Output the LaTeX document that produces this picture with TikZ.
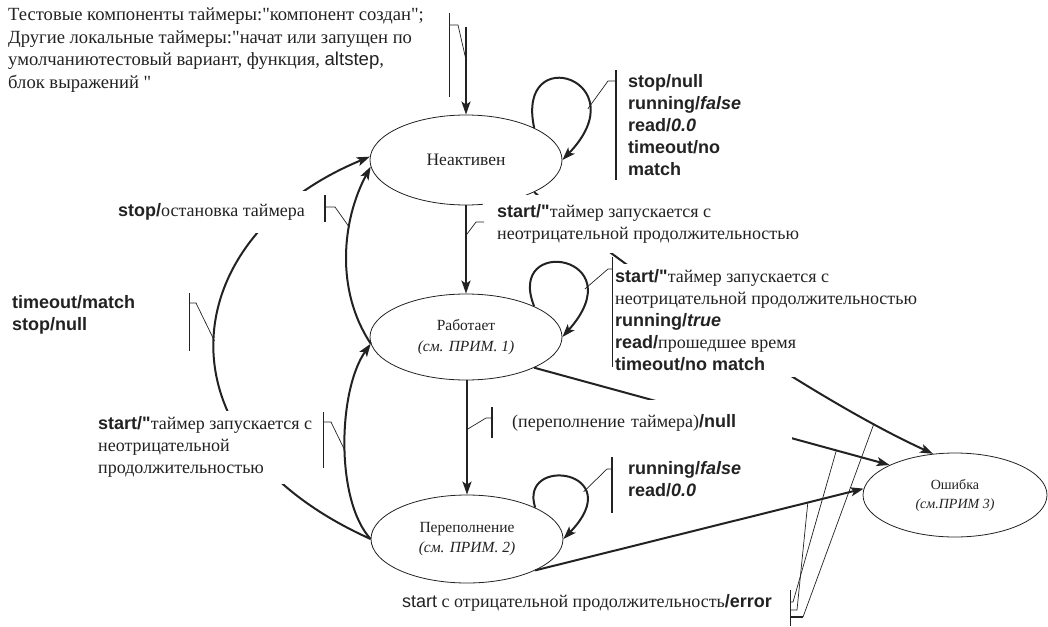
\documentclass[tikz,border=0pt]{standalone}
\usepackage{fontspec}
\setmainfont{Liberation Serif}[Ligatures=TeXOff]
\setsansfont{Liberation Sans}[Ligatures=TeXOff]
\usepackage{tikz}
\usetikzlibrary{shapes.geometric,arrows.meta}
\definecolor{ink}{HTML}{222222}
\newcommand{\kw}[1]{\textsf{\bfseries #1}}
\newcommand{\kwi}[1]{\textsf{\bfseries\itshape #1}}
\tikzset{
  stnode/.style={ellipse, draw=ink, line width=0.8pt, fill=white, inner sep=0pt, align=center, text=ink},
  tr/.style={draw=ink, line width=2pt, -{Stealth[length=13pt,width=9pt,inset=3pt]}},
  call/.style={draw=ink, line width=0.7pt},
  callb/.style={draw=ink, line width=2pt},
  lab/.style={text=ink, font=\fontsize{18}{22}\selectfont, align=left, inner sep=0pt},
  labbox/.style={lab, fill=white},
}

\begin{document}
\begin{tikzpicture}[x=1pt,y=-1pt]
  \useasboundingbox (0,0) rectangle (1048,626);

  % states
  \node[stnode, minimum width=192pt, minimum height=90pt, font=\fontsize{17.5}{21}\selectfont] (inact) at (466,160) {Неактивен};
  \node[stnode, minimum width=192pt, minimum height=86pt, font=\fontsize{15.5}{21}\selectfont] (run) at (466,337) {Работает\\\textit{(см. ПРИМ. 1)}};
  \node[stnode, minimum width=192pt, minimum height=88pt, font=\fontsize{15.5}{20}\selectfont] (over) at (467,539) {Переполнение\\\textit{(см. ПРИМ. 2)}};
  \node[stnode, minimum width=184pt, minimum height=84pt, font=\fontsize{14}{19}\selectfont] (err) at (955,495) {Ошибка\\\textit{(см.ПРИМ 3)}};

  % transitions that run under the label boxes
  \draw[tr] (over.west) .. controls (150,440) and (175,237) .. (inact.178) coordinate[pos=0.5] (cbig);
  \draw[tr] (inact.south east) .. controls (600,250) and (800,393) .. (err.118) coordinate[pos=0.86] (cie);
  \draw[tr] (run.south east) -- (err.north west) coordinate[pos=0.85] (cre);

  % labels on white boxes
  \node[labbox, anchor=north west, inner xsep=14pt, inner ysep=9.5pt] (lstart) at (483,195)
    {\kw{start/"}таймер запускается с\\неотрицательной продолжительностью};
  \node[labbox, anchor=north west, inner xsep=2pt, inner ysep=6pt] (lrun) at (613,263.5)
    {\kw{start/"}таймер запускается с\\неотрицательной продолжительностью\\\kw{running/}\kwi{true}\\\kw{read/}прошедшее время\\\kw{timeout/no match}};
  \node[labbox, anchor=north west, text width=266pt, inner xsep=14pt, minimum height=46pt] (lover) at (498,400)
    {(переполнение таймера)\kw{/null}};
  \node[labbox, anchor=west, inner xsep=4pt, minimum height=42pt] (lstop) at (114,212)
    {\kw{stop/}остановка таймера};
  \node[labbox, anchor=north west, inner xsep=4pt, inner ysep=6pt] (lback) at (94,410.5)
    {\kw{start/"}таймер запускается с\\неотрицательной\\продолжительностью};

  % plain labels
  \node[lab, anchor=north west, font=\fontsize{18.6}{22.5}\selectfont] (lnote) at (8,8)
    {Тестовые компоненты таймеры:"компонент создан";\\Другие локальные таймеры:"начат или запущен по\\умолчаниютестовый вариант, функция, \textsf{altstep},\\блок выражений "};
  \node[lab, anchor=north west] (linact) at (628,74.5)
    {\kw{stop/null}\\\kw{running/}\kwi{false}\\\kw{read/}\kwi{0.0}\\\kw{timeout/no}\\\kw{match}};
  \node[lab, anchor=north west] (lexp) at (12,295.5) {\kw{timeout/match}\\\kw{stop/null}};
  \node[lab, anchor=north west] (lloop) at (628,461.5) {\kw{running/}\kwi{false}\\\kw{read/}\kwi{0.0}};
  \node[lab, anchor=north west] (lerr) at (402,594.5) {\textsf{start} с отрицательной продолжительность\kw{/error}};

  % visible transitions
  \coordinate (init) at (466,27);
  \draw[tr] (init) -- (inact.north) coordinate[pos=0.375] (c0);
  \draw[tr] (inact.south) -- (inact.south |- run.north) coordinate[pos=0.34] (cir);
  \draw[tr] (run.south -| over.north) -- (over.north) coordinate[pos=0.43] (cro);
  \draw[tr] (run.184) .. controls (335,290) and (342,220) .. (inact.184) coordinate[pos=0.65] (cri);
  \draw[tr] (over.west) .. controls (335,500) and (338,390) .. (run.184) coordinate[pos=0.47] (cor);
  \draw[tr] (over.south east) -- (err.176) coordinate[pos=0.83] (coe);

  % self loops
  \draw[tr] (inact.north east) .. controls +(-19,-88) and +(77,-80) .. (inact.east) coordinate[pos=0.75] (cii);
  \draw[tr] (run.north east) .. controls +(-29,-72) and +(73,-82) .. (run.east) coordinate[pos=0.76] (crr);
  \draw[tr] (over.north east) .. controls +(-17,-53) and +(67,-69) .. (over.east) coordinate[pos=0.7] (coo);

  % callouts
  \draw[call] (449,13) -- (449,97);
  \draw[call] (449,25) -- (458,25) -- (c0);
  \draw[callb] (616,70) -- (616,180);
  \draw[call] (616,81) -- (608,81) -- (cii);
  \draw[call] (cir) -- (476,222) -- (484,222);
  \draw[call] (612,257) -- (612,367);
  \draw[call] (612,269) -- (608,269) -- (crr);
  \draw[callb] (492,407) -- (492,438);
  \draw[call] (492,418) -- (486,418) -- (cro);
  \draw[callb] (612,457) -- (612,513);
  \draw[call] (612,469) -- (607,469) -- (coo);
  \draw[callb] (325,195) -- (325,222);
  \draw[call] (325,207) -- (335,207) -- (cri);
  \draw[call] (189,293) -- (189,351);
  \draw[call] (189,303) -- (196,303) -- (cbig);
  \draw[call] (323,412) -- (323,468);
  \draw[call] (323,422) -- (331,422) -- (cor);
  \draw[call] (790,590) -- (790,626);
  \draw[call] (790,602) -- (793,602) -- (cre);
  \draw[call] (790,610) -- (797,610) -- (coe);
  \draw[callb] (790,617) -- (803,617);
  \draw[call] (803,617) -- (cie);
\end{tikzpicture}
\end{document}
